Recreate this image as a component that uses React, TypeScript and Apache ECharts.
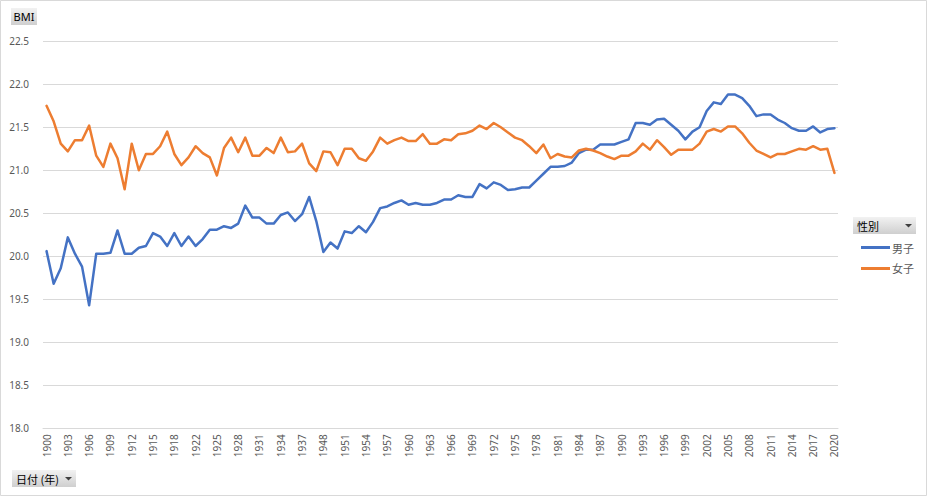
import React, { useEffect, useRef } from "react";
import * as echarts from "echarts";

const years: string[] = [
  "1900","1901","1902","1903","1904","1905","1906","1907","1908","1909",
  "1910","1911","1912","1913","1914","1915","1916","1917","1918","1919",
  "1920","1922","1923","1924","1925","1926","1927","1928","1929","1930",
  "1931","1932","1933","1934","1935","1936","1937","1938","1939",
  "1948","1949","1950","1951","1952","1953","1954","1955","1956","1957",
  "1958","1959","1960","1961","1962","1963","1964","1965","1966","1967",
  "1968","1969","1970","1971","1972","1973","1974","1975","1976","1977",
  "1978","1979","1980","1981","1982","1983","1984","1985","1986","1987",
  "1988","1989","1990","1991","1992","1993","1994","1995","1996","1997",
  "1998","1999","2000","2001","2002","2003","2004","2005","2006","2007",
  "2008","2009","2010","2011","2012","2013","2014","2015","2016","2017",
  "2018","2019","2020",
];

const boys: number[] = [
  20.06,19.68,19.86,20.22,20.03,19.88,19.43,20.03,20.03,20.04,
  20.30,20.03,20.03,20.10,20.12,20.27,20.23,20.12,20.27,20.12,
  20.23,20.12,20.20,20.31,20.31,20.35,20.33,20.38,20.59,20.45,
  20.45,20.38,20.38,20.48,20.51,20.41,20.49,20.69,20.41,
  20.05,20.16,20.09,20.29,20.27,20.35,20.28,20.40,20.56,20.58,
  20.62,20.65,20.60,20.62,20.60,20.60,20.62,20.66,20.66,20.71,
  20.69,20.69,20.84,20.79,20.86,20.83,20.77,20.78,20.80,20.80,
  20.88,20.96,21.04,21.04,21.05,21.09,21.20,21.24,21.24,21.30,
  21.30,21.30,21.33,21.36,21.55,21.55,21.53,21.59,21.60,21.53,
  21.46,21.36,21.45,21.50,21.69,21.79,21.77,21.88,21.88,21.84,
  21.75,21.63,21.65,21.65,21.59,21.55,21.49,21.46,21.46,21.51,
  21.44,21.48,21.49,
];

const girls: number[] = [
  21.75,21.57,21.31,21.22,21.35,21.35,21.52,21.17,21.04,21.31,
  21.14,20.78,21.31,21.00,21.19,21.19,21.28,21.45,21.19,21.06,
  21.15,21.28,21.20,21.15,20.94,21.26,21.38,21.21,21.38,21.17,
  21.17,21.26,21.20,21.38,21.21,21.22,21.31,21.08,20.99,
  21.22,21.21,21.06,21.25,21.25,21.14,21.11,21.22,21.38,21.31,
  21.35,21.38,21.34,21.34,21.42,21.31,21.31,21.36,21.35,21.42,
  21.43,21.46,21.52,21.48,21.55,21.50,21.44,21.38,21.35,21.28,
  21.20,21.30,21.14,21.19,21.16,21.15,21.23,21.25,21.23,21.20,
  21.16,21.13,21.17,21.17,21.22,21.31,21.24,21.35,21.27,21.18,
  21.24,21.24,21.24,21.31,21.45,21.48,21.45,21.51,21.51,21.43,
  21.32,21.23,21.19,21.15,21.19,21.19,21.22,21.25,21.24,21.28,
  21.24,21.25,20.97,
];

const seriesNames = ["男子", "女子"];
const yTicks = { min: 18, max: 22.5, interval: 0.5 };

const JP = '"Noto Sans CJK JP", "Noto Sans", sans-serif';
const NUM = '"Noto Sans", "Liberation Sans", sans-serif';

const btnFill = new echarts.graphic.LinearGradient(0, 0, 0, 1, [
  { offset: 0, color: "#F2F2F2" },
  { offset: 1, color: "#CFCFCF" },
]);

export default function App() {
  const ref = useRef<HTMLDivElement>(null);
  useEffect(() => {
    document.body.style.margin = "0";
    const chart = echarts.init(ref.current!, undefined, { renderer: "svg" });
    chart.setOption({
      animation: false,
      backgroundColor: "#FFFFFF",
      grid: { left: 43, right: 89, top: 41.3, bottom: 67.7, containLabel: false },
      legend: {
        orient: "vertical",
        left: 856,
        top: 237,
        itemWidth: 29,
        itemHeight: 3,
        itemGap: 10,
        icon: "rect",
        data: seriesNames,
        textStyle: { fontFamily: JP, fontSize: 11, color: "#595959", padding: [0, 0, 0, -3] },
      },
      xAxis: {
        type: "category",
        data: years,
        boundaryGap: true,
        axisLine: { show: true, lineStyle: { color: "#D9D9D9", width: 1 } },
        axisTick: { show: false },
        axisLabel: {
          interval: 2,
          rotate: 90,
          margin: 6,
          fontFamily: NUM,
          fontSize: 10,
          color: "#595959",
        },
        splitLine: { show: false },
      },
      yAxis: {
        type: "value",
        min: yTicks.min,
        max: yTicks.max,
        interval: yTicks.interval,
        axisLine: { show: false },
        axisTick: { show: false },
        axisLabel: {
          margin: 14,
          fontFamily: NUM,
          fontSize: 10,
          color: "#595959",
          formatter: (v: number) => v.toFixed(1),
        },
        splitLine: { show: true, lineStyle: { color: "#D9D9D9", width: 1 } },
      },
      series: [
        {
          name: seriesNames[0],
          type: "line",
          data: boys,
          showSymbol: false,
          symbol: "none",
          color: "#4472C4",
          lineStyle: { width: 2.5, color: "#4472C4", join: "round", cap: "round" },
        },
        {
          name: seriesNames[1],
          type: "line",
          data: girls,
          showSymbol: false,
          symbol: "none",
          color: "#ED7D31",
          lineStyle: { width: 2.5, color: "#ED7D31", join: "round", cap: "round" },
        },
      ],
      graphic: [
        {
          type: "rect",
          silent: true,
          shape: { x: 0.5, y: 0.5, width: 926, height: 495 },
          style: { fill: "none", stroke: "#D9D9D9", lineWidth: 1 },
        },
        {
          type: "group",
          left: 11,
          top: 8,
          children: [
            { type: "rect", shape: { x: 0, y: 0, width: 26, height: 17 }, style: { fill: btnFill } },
            {
              type: "text",
              style: { x: 13, y: 8.5, text: "BMI", align: "center", verticalAlign: "middle", font: `11px ${NUM}`, fill: "#000000" },
            },
          ],
        },
        {
          type: "group",
          left: 12,
          top: 470,
          children: [
            { type: "rect", shape: { x: 0, y: 0, width: 64, height: 17 }, style: { fill: btnFill } },
            {
              type: "text",
              style: { x: 4, y: 8.5, text: "日付 (年)", align: "left", verticalAlign: "middle", font: `11px ${JP}`, fill: "#000000" },
            },
            { type: "polygon", shape: { points: [[53, 7], [60, 7], [56.5, 10.5]] }, style: { fill: "#404040" } },
          ],
        },
        {
          type: "group",
          left: 853,
          top: 217,
          children: [
            { type: "rect", shape: { x: 0, y: 0, width: 63, height: 17 }, style: { fill: btnFill } },
            {
              type: "text",
              style: { x: 4, y: 8.5, text: "性別", align: "left", verticalAlign: "middle", font: `11px ${JP}`, fill: "#000000" },
            },
            { type: "polygon", shape: { points: [[52, 7], [59, 7], [55.5, 10.5]] }, style: { fill: "#404040" } },
          ],
        },
      ],
    });
    return () => chart.dispose();
  }, []);
  return (
    <div
      ref={ref}
      style={{ position: "absolute", left: 0, top: 0, width: 927, height: 496 }}
    />
  );
}
